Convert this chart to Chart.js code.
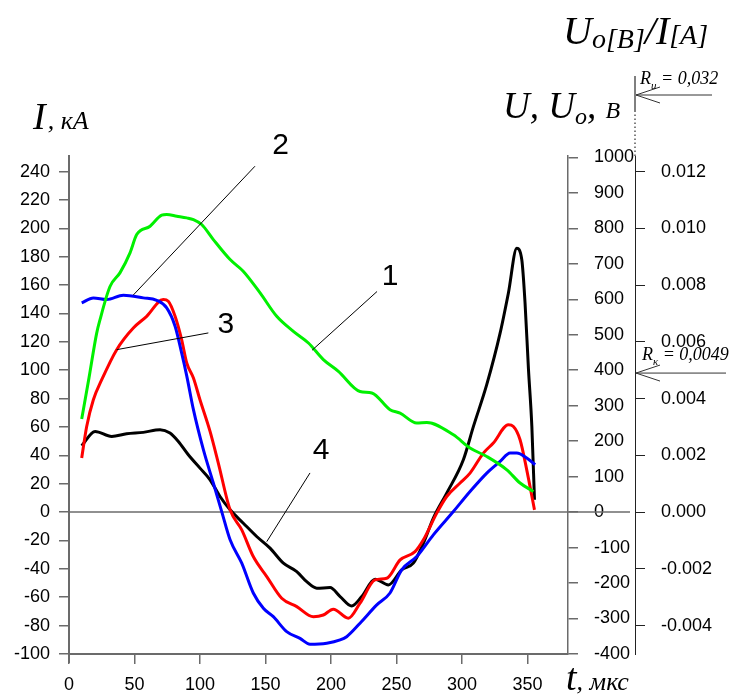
<!DOCTYPE html>
<html>
<head>
<meta charset="utf-8">
<script src="https://cdn.jsdelivr.net/npm/chart.js@4.4.0/dist/chart.umd.min.js"></script>
<style>
  body { margin: 0; background: #fff; }
  #wrap { width: 732px; height: 697px; }
</style>
</head>
<body>
<div id="wrap"><canvas id="chart" width="732" height="697"></canvas></div>
<script>
// Ticks
const xTicks = [0, 50, 100, 150, 200, 250, 300, 350];
const iTicks = [-100, -80, -60, -40, -20, 0, 20, 40, 60, 80, 100, 120, 140, 160, 180, 200, 220, 240];
const uTicks = [-400, -300, -200, -100, 0, 100, 200, 300, 400, 500, 600, 700, 800, 900, 1000];
const rTicks = [-0.004, -0.002, 0, 0.002, 0.004, 0.006, 0.008, 0.010, 0.012];

// Curve 1 (green)
const greenT = [9.7, 15.3, 21.1, 23.7, 31.3, 39, 46.6, 51.7, 61.9, 70.8, 74.6, 82.3, 89.9, 95, 101.3, 110.2, 123, 133, 145.9, 158.6, 171.3, 182.8, 194.2, 205.7, 222.2, 231.2, 245.1, 252.8, 265.5, 273.2, 293.5, 306.2, 319, 334.3, 344.4, 354.6];
const greenI = [65.6, 94.8, 126, 135.7, 159, 168.8, 182.7, 195.6, 201.5, 209.3, 209.8, 208.6, 207.4, 206.2, 202.7, 192.1, 178, 169.8, 154.5, 138, 127.4, 119.2, 107.5, 99.2, 85, 84, 72.2, 69.8, 62.8, 63.2, 54.5, 45.2, 39.2, 29.8, 20.5, 14.5];

// Curve 2 (blue)
const blueT = [9.7, 18.6, 28.8, 41.5, 56.7, 67, 74.6, 81, 86, 89.9, 95, 102.6, 110.2, 116.6, 123, 131.9, 140.7, 148.4, 156, 166.2, 176.4, 184, 196.8, 207, 212, 222.2, 235, 245.1, 254, 265.5, 278.2, 293.5, 306.2, 319, 329.2, 336.8, 341.9, 349.5, 355.9];
const blueI = [147.5, 151, 149.8, 152.8, 151, 149.3, 143.9, 131, 112.2, 96, 72.2, 44, 20.5, 0.4, -19.5, -36, -57, -67.7, -73.7, -84.2, -89, -93.1, -92.4, -90.1, -87.8, -78.3, -65.4, -57, -40.7, -31.3, -16, 0.4, 14.5, 27.5, 35.7, 41.6, 41.6, 38.1, 33.4];

// Curve 3 (red)
const redT = [9.7, 13.5, 18.6, 25, 36.4, 49.1, 59.3, 72, 75.8, 81, 86, 89.9, 95, 100, 107.7, 114, 123, 131.9, 140.7, 151, 162.4, 173.9, 186.6, 194.2, 201.8, 213.3, 222.2, 233.7, 242.6, 252.8, 264.2, 270.6, 280.8, 288.4, 298.6, 306.2, 316.4, 324, 335.5, 339.3, 344.4, 349.5, 355.4];
const redI = [38.1, 60.4, 79.2, 93.3, 114.5, 129.8, 138, 149.8, 148.6, 138, 121.6, 105.1, 94.5, 79.2, 56.9, 34.6, 1.6, -12.5, -31.3, -45.4, -60.7, -66.6, -73.7, -72.5, -68.4, -74.8, -64.2, -47.8, -46.6, -33.7, -27.8, -19.5, -0.7, 11, 20.5, 27.5, 41.6, 48.7, 61.6, 60.4, 51, 29.8, 1.6];

// Curve 4 (black)
const blackT = [9.7, 19.9, 32.6, 44, 56.7, 69.5, 77.1, 83.5, 91.1, 100, 107.7, 115.3, 123, 133.1, 143.3, 153.5, 163.7, 173.9, 181.5, 189.2, 199.3, 207, 215.9, 223.5, 233.7, 243.9, 254, 262.9, 270.6, 278.2, 288.4, 301.1, 308.8, 319, 329.2, 335.5, 341.9, 345.7, 348.2, 350.8, 353.4, 355.4];
const blackI = [46.8, 56.9, 53.3, 55.2, 56.2, 58.1, 55.7, 49.8, 40.4, 31, 22.8, 11, 1.6, -7.8, -17.2, -25.4, -36, -41.9, -49, -53.6, -53.2, -59.5, -66.1, -59.5, -47.3, -51.3, -40.7, -36, -21.9, -4.2, 13.4, 36.9, 60.4, 90, 126.3, 154.5, 186, 178, 147.5, 101, 60.4, 8.7];

// Callouts 1-4 with leader lines (in t / I units)
const calloutNames = ['1', '2', '3', '4'];
const calloutT = [245.2, 161.5, 119.7, 192.5];
const calloutI = [166.2, 258.4, 132.2, 43.5];
const leaderFromT = [235.2, 142, 106.4, 184];
const leaderFromI = [155.5, 243.8, 126.3, 27.6];
const leaderToT = [185.6, 49.1, 36.4, 151];
const leaderToI = [114.1, 153, 114.5, -20.8];

// Resistance markers on the Uo/I axis
const rK = 0.0049;

const axisGray = '#6b6b6b';
const tickFont = { family: 'Liberation Sans, Arial, sans-serif', size: 18 };

function pts(ts, vs) {
  return ts.map((t, i) => ({ x: t, y: vs[i] }));
}

function lineSet(label, ts, vs, color) {
  return {
    label: label,
    data: pts(ts, vs),
    borderColor: color,
    backgroundColor: color,
    borderWidth: 3,
    pointRadius: 0,
    cubicInterpolationMode: 'monotone',
    fill: false,
    yAxisID: 'y'
  };
}

function fixTicks(list) {
  return s => { s.ticks = list.map(v => ({ value: v })); };
}

function drawArrowLeft(ctx, xTip, xEnd, y) {
  ctx.beginPath();
  ctx.moveTo(xEnd, y);
  ctx.lineTo(xTip, y);
  ctx.moveTo(xTip + 24, y - 8);
  ctx.lineTo(xTip, y);
  ctx.lineTo(xTip + 24, y + 8);
  ctx.stroke();
}

// R label: "R" + subscript + " = value"
function drawRLabel(ctx, x, y, sub, value) {
  ctx.font = 'italic 18px "Liberation Serif", serif';
  ctx.fillText('R', x, y);
  let w = ctx.measureText('R').width;
  ctx.font = 'italic 11px "Liberation Serif", serif';
  ctx.fillText(sub, x + w, y + 5);
  w += ctx.measureText(sub).width;
  ctx.font = 'italic 18px "Liberation Serif", serif';
  ctx.fillText(' = ' + value, x + w, y);
}

const decor = {
  id: 'decor',
  beforeDatasetsDraw(chart) {
    const { ctx, chartArea, scales } = chart;
    const y0 = scales.y.getPixelForValue(0);
    ctx.save();
    ctx.strokeStyle = axisGray;
    ctx.lineWidth = 1.5;
    ctx.beginPath();
    ctx.moveTo(chartArea.left, y0);
    ctx.lineTo(scales.yR.left - 5, y0);
    ctx.stroke();
    // left axis runs a little below the t axis
    ctx.lineWidth = 2;
    ctx.beginPath();
    ctx.moveTo(chartArea.left, chartArea.bottom);
    ctx.lineTo(chartArea.left, chartArea.bottom + 9);
    ctx.stroke();
    ctx.restore();
  },
  afterDraw(chart) {
    const { ctx, scales } = chart;
    const xs = scales.x, ys = scales.y, yr = scales.yR;
    ctx.save();

    // leader lines and numbers
    ctx.strokeStyle = '#000';
    ctx.lineWidth = 1;
    ctx.fillStyle = '#000';
    ctx.textAlign = 'center';
    ctx.textBaseline = 'middle';
    ctx.font = '30px "Liberation Sans", Arial, sans-serif';
    calloutNames.forEach((name, i) => {
      ctx.beginPath();
      ctx.moveTo(xs.getPixelForValue(leaderFromT[i]), ys.getPixelForValue(leaderFromI[i]));
      ctx.lineTo(xs.getPixelForValue(leaderToT[i]), ys.getPixelForValue(leaderToI[i]));
      ctx.stroke();
      ctx.fillText(name, xs.getPixelForValue(calloutT[i]), ys.getPixelForValue(calloutI[i]));
    });

    // Uo/I axis extension above the plot
    const ax = yr.left;
    ctx.setLineDash([1.5, 2.5]);
    ctx.beginPath();
    ctx.moveTo(ax, yr.top);
    ctx.lineTo(ax, 112);
    ctx.stroke();
    ctx.setLineDash([]);
    ctx.beginPath();
    ctx.moveTo(ax, 112);
    ctx.lineTo(ax, 76);
    ctx.stroke();

    // R markers
    ctx.textAlign = 'left';
    ctx.textBaseline = 'alphabetic';
    ctx.strokeStyle = '#333';
    drawArrowLeft(ctx, ax + 1, 712, 95);
    drawRLabel(ctx, ax + 5, 84, 'и', '0,032');
    const yk = yr.getPixelForValue(rK);
    drawArrowLeft(ctx, ax + 1, 726, yk);
    drawRLabel(ctx, ax + 7, yk - 13, 'к', '0,0049');

    // axis titles
    ctx.fillStyle = '#000';
    ctx.font = 'italic 38px "Liberation Serif", serif';
    ctx.fillText('I', 33, 129);
    let w = ctx.measureText('I').width;
    ctx.font = 'italic 26px "Liberation Serif", serif';
    ctx.fillText(', кА', 33 + w + 2, 129);

    let x = 503;
    ctx.font = 'italic 37px "Liberation Serif", serif';
    ctx.fillText('U, U', x, 118);
    x += ctx.measureText('U, U').width;
    ctx.font = 'italic 24px "Liberation Serif", serif';
    ctx.fillText('o', x, 124);
    x += ctx.measureText('o').width;
    ctx.font = 'italic 37px "Liberation Serif", serif';
    ctx.fillText(', ', x, 118);
    x += ctx.measureText(', ').width;
    ctx.font = 'italic 24px "Liberation Serif", serif';
    ctx.fillText('В', x, 118);

    x = 563;
    ctx.font = 'italic 40px "Liberation Serif", serif';
    ctx.fillText('U', x, 44);
    x += ctx.measureText('U').width;
    ctx.font = 'italic 28px "Liberation Serif", serif';
    ctx.fillText('o[B]', x, 48);
    x += ctx.measureText('o[B]').width;
    ctx.font = 'italic 40px "Liberation Serif", serif';
    ctx.fillText('/I', x, 44);
    x += ctx.measureText('/I').width;
    ctx.font = 'italic 28px "Liberation Serif", serif';
    ctx.fillText('[A]', x, 44);

    x = 566;
    ctx.font = 'italic 38px "Liberation Serif", serif';
    ctx.fillText('t', x, 690);
    x += ctx.measureText('t').width;
    ctx.font = 'italic 26px "Liberation Serif", serif';
    ctx.fillText(', мкс', x, 690);

    ctx.restore();
  }
};

new Chart(document.getElementById('chart'), {
  type: 'line',
  data: {
    datasets: [
      lineSet('1', greenT, greenI, '#00f000'),
      lineSet('2', blueT, blueI, '#0000ff'),
      lineSet('3', redT, redI, '#ff0000'),
      lineSet('4', blackT, blackI, '#000000')
    ]
  },
  options: {
    responsive: false,
    animation: false,
    events: [],
    layout: { padding: { top: 156, left: 0, right: 0, bottom: 0 } },
    plugins: { legend: { display: false }, tooltip: { enabled: false } },
    scales: {
      x: {
        type: 'linear',
        min: 0,
        max: 381,
        afterBuildTicks: fixTicks(xTicks),
        afterFit: s => { s.height = 43; },
        grid: { drawOnChartArea: false, tickLength: 10, color: axisGray, lineWidth: 1.5 },
        border: { color: axisGray, width: 2 },
        ticks: { color: '#000', font: tickFont, padding: 10, maxRotation: 0 }
      },
      y: {
        position: 'left',
        min: -100,
        max: 251,
        afterBuildTicks: fixTicks(iTicks),
        afterFit: s => { s.width = 69; },
        grid: { drawOnChartArea: false, tickLength: 10, color: axisGray, lineWidth: 1.5 },
        border: { color: axisGray, width: 2 },
        ticks: { color: '#000', font: tickFont, padding: 9 }
      },
      yU: {
        position: 'right',
        weight: 0,
        min: -400,
        max: 1004,
        afterBuildTicks: fixTicks(uTicks),
        afterFit: s => { s.width = 67; },
        grid: { drawOnChartArea: false, tickLength: 10, color: axisGray, lineWidth: 1.5 },
        border: { color: axisGray, width: 1.5 },
        ticks: { color: '#000', font: tickFont, padding: 16, callback: v => String(v) }
      },
      yR: {
        position: 'right',
        weight: 1,
        min: -0.005,
        max: 0.01255,
        afterBuildTicks: fixTicks(rTicks),
        afterFit: s => { s.width = 97; },
        grid: { drawOnChartArea: false, tickLength: 10, color: '#222', lineWidth: 1 },
        border: { color: '#222', width: 1 },
        ticks: { color: '#000', font: tickFont, padding: 16, callback: v => v.toFixed(3) }
      }
    }
  },
  plugins: [decor]
});
</script>
</body>
</html>
